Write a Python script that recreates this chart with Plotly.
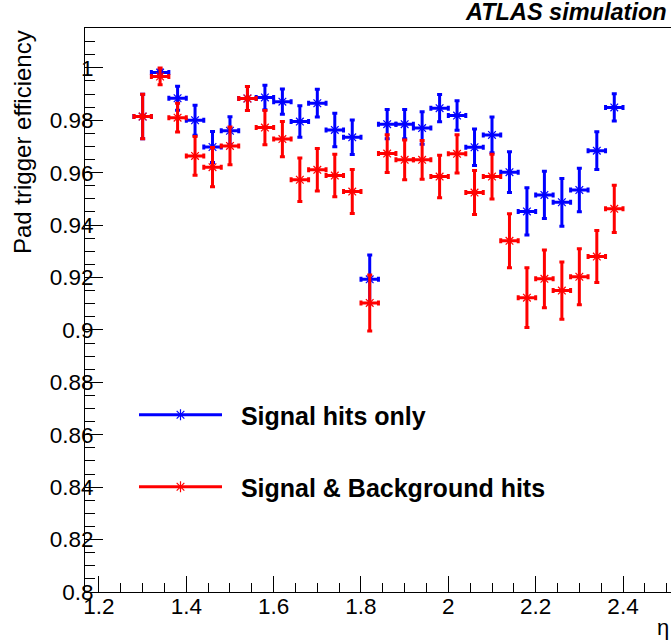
import plotly.graph_objects as go

# ---------------- data ----------------
eta = [1.30, 1.34, 1.38, 1.42, 1.46, 1.50, 1.54, 1.58, 1.62, 1.66, 1.70, 1.74, 1.78, 1.82,
       1.86, 1.90, 1.94, 1.98, 2.02, 2.06, 2.10, 2.14, 2.18, 2.22, 2.26, 2.30, 2.34, 2.38]
eta_halfwidth = [0.02] * len(eta)

signal_eff = [0.9814, 0.9982, 0.9884, 0.9800, 0.9698, 0.9760, 0.9883, 0.9887, 0.9871, 0.9795,
              0.9865, 0.9763, 0.9735, 0.9193, 0.9785, 0.9785, 0.9770, 0.9846, 0.9818, 0.9697,
              0.9744, 0.9602, 0.9452, 0.9515, 0.9487, 0.9534, 0.9684, 0.9849]
signal_err = [0.0085, 0.0011, 0.0046, 0.0057, 0.0059, 0.0053, 0.0046, 0.0047, 0.0048, 0.0060,
              0.0053, 0.0064, 0.0066, 0.0093, 0.0056, 0.0056, 0.0062, 0.0052, 0.0056, 0.0070,
              0.0068, 0.0078, 0.0090, 0.0090, 0.0091, 0.0083, 0.0072, 0.0052]

sigbkg_eff = [0.9814, 0.9967, 0.9810, 0.9664, 0.9621, 0.9702, 0.9883, 0.9772, 0.9728, 0.9573,
              0.9611, 0.9589, 0.9528, 0.9103, 0.9673, 0.9649, 0.9649, 0.9585, 0.9672, 0.9524,
              0.9585, 0.9340, 0.9123, 0.9195, 0.9150, 0.9203, 0.9280, 0.9462]
sigbkg_err = [0.0085, 0.0032, 0.0055, 0.0074, 0.0075, 0.0072, 0.0046, 0.0065, 0.0067, 0.0083,
              0.0081, 0.0081, 0.0084, 0.0107, 0.0072, 0.0076, 0.0074, 0.0081, 0.0073, 0.0084,
              0.0085, 0.0103, 0.0114, 0.0110, 0.0109, 0.0107, 0.0099, 0.0090]

x_tickvals = [1.2, 1.4, 1.6, 1.8, 2.0, 2.2, 2.4]
x_ticktext = ["1.2", "1.4", "1.6", "1.8", "2", "2.2", "2.4"]
y_tickvals = [0.80, 0.82, 0.84, 0.86, 0.88, 0.90, 0.92, 0.94, 0.96, 0.98, 1.00]
y_ticktext = ["0.8", "0.82", "0.84", "0.86", "0.88", "0.9", "0.92", "0.94", "0.96", "0.98", "1"]

series_names = ["Signal hits only", "Signal & Background hits"]
series_colors = ["#0000ff", "#ff0000"]

FONT = "Liberation Sans, Arial, Helvetica, sans-serif"

fig = go.Figure()

for name, color, yv, ye, leg in [
    (series_names[0], series_colors[0], signal_eff, signal_err, "legend"),
    (series_names[1], series_colors[1], sigbkg_eff, sigbkg_err, "legend2"),
]:
    fig.add_trace(go.Scatter(
        x=eta, y=yv, mode="markers", showlegend=False,
        marker=dict(symbol="asterisk-open", size=9, color=color,
                    line=dict(color=color, width=1.2)),
        error_x=dict(type="data", array=eta_halfwidth, color=color, thickness=3, width=2.5),
        error_y=dict(type="data", array=ye, color=color, thickness=3, width=2.5),
    ))
    # legend-only entry (line + marker)
    fig.add_trace(go.Scatter(
        x=[None], y=[None], mode="lines+markers", name="\u00a0\u00a0" + name, legend=leg,
        line=dict(color=color, width=3),
        marker=dict(symbol="asterisk-open", size=9, color=color,
                    line=dict(color=color, width=1.2)),
    ))

W, H = 671, 643
L, T, B, R = 85, 28, 51, 0
pw, ph = W - L - R, H - T - B

def px_x(p):
    return (p - L) / pw

def px_y(p):
    return (H - B - p) / ph

legend_common = dict(
    font=dict(family=FONT, size=25, color="black", weight="bold"),
    bgcolor="rgba(0,0,0,0)", borderwidth=0, itemwidth=83,
    xanchor="left", yanchor="middle", xref="paper", yref="paper",
)

fig.update_layout(
    width=W, height=H,
    margin=dict(l=L, r=R, t=T, b=B, pad=0, autoexpand=False),
    paper_bgcolor="white", plot_bgcolor="white",
    font=dict(family=FONT, color="black"),
    legend=dict(x=px_x(134), y=px_y(415), **legend_common),
    legend2=dict(x=px_x(134), y=px_y(487), **legend_common),
    xaxis=dict(
        range=[1.168, 2.5099], showgrid=False, zeroline=False,
        showline=True, linecolor="black", linewidth=1, mirror=True,
        ticks="inside", ticklen=16, tickwidth=1, tickcolor="black",
        tickvals=x_tickvals, ticktext=x_ticktext, ticklabelstandoff=-6,
        tickfont=dict(family=FONT, size=22.5, color="black"),
        minor=dict(ticks="inside", ticklen=9, dtick=0.05, tick0=1.2, tickcolor="black", tickwidth=1),
    ),
    yaxis=dict(
        range=[0.8, 1.0152], showgrid=False, zeroline=False,
        showline=True, linecolor="black", linewidth=1, mirror=False,
        ticks="inside", ticklen=18, tickwidth=1, tickcolor="black",
        tickvals=y_tickvals, ticktext=y_ticktext, ticklabelstandoff=-14,
        tickfont=dict(family=FONT, size=22.5, color="black"),
        minor=dict(ticks="inside", ticklen=10, dtick=0.005, tick0=0.8, tickcolor="black", tickwidth=1),
    ),
    annotations=[
        dict(text="<b><i>ATLAS simulation</i></b>", xref="paper", yref="paper",
             x=1, y=1, xanchor="right", yanchor="middle", yshift=16, xshift=-2,
             showarrow=False, font=dict(family=FONT, size=23.5, color="black")),
        dict(text="Pad trigger efficiency", xref="paper", yref="paper",
             x=0, y=1, xanchor="center", yanchor="top", xshift=-63, textangle=-90,
             showarrow=False, font=dict(family=FONT, size=24, color="black")),
        dict(text="η", xref="paper", yref="paper", x=1, y=0, xanchor="right",
             yanchor="middle", xshift=0, yshift=-35,
             showarrow=False, font=dict(family=FONT, size=22, color="black")),
    ],
)

fig.write_html("out.html", config={"displayModeBar": False},
               post_script="document.body.style.margin='0';document.body.style.overflow='hidden';")
